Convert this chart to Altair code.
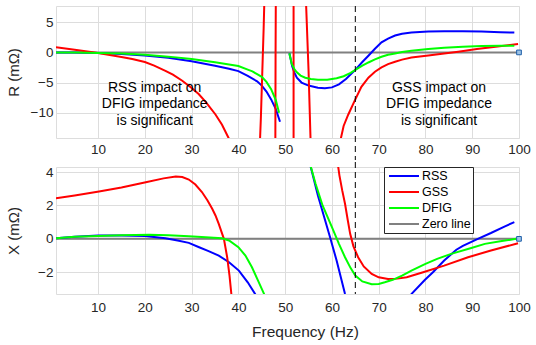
import altair as alt
import pandas as pd

FONT = "Liberation Sans"
SERIES = ["RSS", "GSS", "DFIG", "Zero line"]
COLORS = ["#0000ff", "#ff0000", "#00ff00", "#808080"]
WIDTHS = [2, 2, 2, 3]

F_DOMAIN = [1, 100]
F_TICKS = [10, 20, 30, 40, 50, 60, 70, 80, 90, 100]
R_DOMAIN = [-14.2, 7.7]
R_TICKS = [-10, -5, 0, 5]
X_DOMAIN = [-3.3, 4.3]
X_TICKS = [-2, 0, 2, 4]

# ---------------- R (resistance) panel ----------------
R_RSS_F1 = [1, 5, 10, 15, 20, 25, 30, 35, 38, 40, 42, 44, 45, 46, 47, 48, 48.9]
R_RSS_V1 = [0, -0.03, -0.1, -0.25, -0.5, -0.9, -1.45, -2.2, -2.7, -3.1, -3.9, -4.8, -5.5, -6.5, -7.8, -9.4, -11.5]
R_RSS_F2 = [50.9, 51.2, 51.5, 52.0, 52.5, 53.5, 55, 57, 58.5, 60, 61.5, 63, 65, 66.5, 67.8, 69.2, 70.6,
            72, 73.5, 75, 77, 80.6, 84, 88, 92, 96, 99]
R_RSS_V2 = [-0.15, -1.2, -2.3, -3.4, -4.2, -5.0, -5.5, -5.85, -5.95, -5.8, -5.3, -4.4, -2.9, -1.6, -0.55, 0.6, 1.67,
            2.3, 2.8, 3.1, 3.3, 3.45, 3.5, 3.5, 3.45, 3.35, 3.3]

R_DFIG_F1 = [1, 5, 10, 15, 20, 25, 30, 35, 38, 40, 42, 43, 44, 45, 46, 47, 48, 48.7]
R_DFIG_V1 = [0, -0.02, -0.08, -0.2, -0.4, -0.7, -1.1, -1.65, -2.0, -2.25, -2.85, -3.15, -3.6, -4.05, -4.9, -6.1, -7.9, -10.0]
R_DFIG_F2 = [50.9, 51.4, 52.0, 52.5, 53.3, 54.3, 55.5, 57, 59, 61, 62.5, 64, 65, 66.5, 67.8, 69.2, 70.6,
             72, 73.5, 75, 77, 80.6, 84, 88, 92, 96, 99]
R_DFIG_V2 = [-0.15, -1.9, -2.8, -3.3, -3.85, -4.2, -4.4, -4.55, -4.55, -4.3, -3.95, -3.4, -2.9, -2.2, -1.67, -1.15, -0.72,
             -0.4, -0.17, 0.05, 0.28, 0.55, 0.78, 0.95, 1.05, 1.1, 1.1]

R_GSS_F1 = [1, 5, 10, 15, 17.3, 20, 22, 24.4, 26, 28, 30, 31.5, 33, 35.1, 36.5, 37.9, 38.3]
R_GSS_V1 = [0.85, 0.45, -0.1, -0.75, -1.1, -1.6, -2.2, -3.05, -3.7, -4.7, -5.9, -6.9, -8.2, -10.3, -12.0, -14.2, -15]
R_GSS_F2 = [44.6, 44.8, 45.0, 45.2, 45.4, 45.55]
R_GSS_V2 = [-15, -11, -6, -1, 4, 8.5]
R_GSS_F3 = [48.0, 47.95, 47.9]
R_GSS_V3 = [8.5, 0, -15]
R_GSS_F4 = [51.8, 51.8]
R_GSS_V4 = [-15, 8.5]
R_GSS_F5 = [54.45, 55.0, 55.45]
R_GSS_V5 = [8.5, -3, -15]
R_GSS_F6 = [61.7, 62.5, 63.5, 65, 66.3, 67.8, 69.2, 70.6, 72, 73.5, 75, 77, 80.6, 84, 87, 91, 95, 99.8]
R_GSS_V6 = [-15, -12.2, -10.3, -7.8, -5.7, -4.2, -3.2, -2.5, -1.95, -1.55, -1.2, -0.85, -0.5, -0.2, 0.1, 0.55, 0.95, 1.4]

# ---------------- X (reactance) panel ----------------
X_RSS_F1 = [1, 5, 10, 15, 20, 24.4, 27, 29.4, 31.6, 33.5, 35.8, 38, 40.1, 42, 43.8, 44.2]
X_RSS_V1 = [0.03, 0.12, 0.2, 0.2, 0.17, 0.04, -0.1, -0.24, -0.5, -0.72, -1.0, -1.4, -1.9, -2.6, -3.4, -3.6]
X_RSS_F2 = [55.2, 57, 59.6, 61, 62.8, 63.2]
X_RSS_V2 = [4.6, 2.6, 0.1, -1.3, -3.3, -3.7]
X_RSS_F3 = [76.5, 77, 79.9, 81.6, 84, 86.6, 88, 91.2, 94, 97, 99]
X_RSS_V3 = [-3.6, -3.3, -2.45, -2.0, -1.3, -0.65, -0.42, 0, 0.35, 0.75, 1.0]

X_DFIG_F1 = [1, 5, 10, 15, 20.9, 25, 29.4, 33, 36.5, 38, 40, 41.5, 42.9, 44.2, 45.5, 45.8]
X_DFIG_V1 = [0.03, 0.12, 0.17, 0.21, 0.24, 0.22, 0.16, 0.1, 0.03, -0.1, -0.5, -1.0, -1.7, -2.5, -3.3, -3.6]
X_DFIG_F2 = [55.2, 56.5, 58, 60, 61.5, 62.8, 64, 65, 66.5, 68.5, 70, 71.3, 73, 75, 77, 80, 82.5, 85.5,
             89.8, 92.7, 96, 99.4]
X_DFIG_V2 = [4.6, 3.3, 2.0, 0.7, -0.3, -1.1, -1.75, -2.2, -2.55, -2.72, -2.7, -2.6, -2.45, -2.2, -1.9, -1.5, -1.2, -0.9,
             -0.55, -0.3, -0.15, 0]

X_GSS_F1 = [1, 5, 10.2, 15, 20.2, 24, 26.6, 28, 29.4, 30.8, 32.2, 33.4, 34.4, 35.1, 35.8, 36.9, 37.6, 38.1, 38.6]
X_GSS_V1 = [2.43, 2.6, 2.83, 3.07, 3.39, 3.62, 3.73, 3.7, 3.55, 3.25, 2.8, 2.3, 1.8, 1.4, 0.9, 0, -1.1, -2.2, -3.6]
X_GSS_F2 = [61.2, 61.6, 62.2, 62.8, 63.4, 63.9, 64.6, 65.6, 66.8, 68.5, 70, 72, 74, 76, 79.5, 84, 89.1, 94, 99.8]
X_GSS_V2 = [4.6, 3.8, 2.9, 2.1, 1.1, 0.3, -0.45, -1.1, -1.65, -2.1, -2.3, -2.4, -2.38, -2.3, -2.0, -1.6, -1.1, -0.7, -0.26]

ZERO_F = [1, 100]
ZERO_V = [0, 0]

DASH_F = [65]
MARK_F = [100]
MARK_V = [0]

ANNOT_TEXT = ["RSS impact on\nDFIG impedance\nis significant",
              "GSS impact on\nDFIG impedance\nis significant"]
ANNOT_F = [22.1, 82.9]
ANNOT_V = [-5.9, -5.9]

R_SEGMENTS = [
    ("Zero line", ZERO_F, ZERO_V),
    ("RSS", R_RSS_F1, R_RSS_V1), ("RSS", R_RSS_F2, R_RSS_V2),
    ("GSS", R_GSS_F1, R_GSS_V1), ("GSS", R_GSS_F2, R_GSS_V2), ("GSS", R_GSS_F3, R_GSS_V3),
    ("GSS", R_GSS_F4, R_GSS_V4), ("GSS", R_GSS_F5, R_GSS_V5), ("GSS", R_GSS_F6, R_GSS_V6),
    ("DFIG", R_DFIG_F1, R_DFIG_V1), ("DFIG", R_DFIG_F2, R_DFIG_V2),
]
X_SEGMENTS = [
    ("Zero line", ZERO_F, ZERO_V),
    ("RSS", X_RSS_F1, X_RSS_V1), ("RSS", X_RSS_F2, X_RSS_V2), ("RSS", X_RSS_F3, X_RSS_V3),
    ("GSS", X_GSS_F1, X_GSS_V1), ("GSS", X_GSS_F2, X_GSS_V2),
    ("DFIG", X_DFIG_F1, X_DFIG_V1), ("DFIG", X_DFIG_F2, X_DFIG_V2),
]


def build(segments):
    rows = []
    for k, (s, fs, vs) in enumerate(segments):
        for i, (f, v) in enumerate(zip(fs, vs)):
            rows.append({"series": s, "seg": f"{s}-{k}", "i": i, "f": f, "v": v})
    return pd.DataFrame(rows)


W = 463
H_TOP = 132
H_BOT = 127
GAP = 22
OVERHANG = 5
AXIS_COLOR = "#262626"


def panel(segments, ydom, yticks, ytitle, bottom, height):
    df = build(segments)
    xaxis_kw = dict(values=F_TICKS, grid=True, ticks=False, domain=False,
                    labelPadding=6 if bottom else 4,
                    labelFontSize=13.5, labelColor=AXIS_COLOR, labelFont=FONT,
                    labelFlush=False)
    if bottom:
        xaxis_kw.update(title="Frequency (Hz)", titleFontSize=15.5, titleFont=FONT,
                        titleColor=AXIS_COLOR, titleFontWeight="normal", titlePadding=11,
                        titleX=249)
    else:
        xaxis_kw.update(title=None)
    xaxis = alt.Axis(**xaxis_kw)
    yaxis = alt.Axis(values=yticks, grid=True, ticks=False, domain=False, labelPadding=3,
                     labelFontSize=13.5, labelColor=AXIS_COLOR, labelFont=FONT,
                     title=ytitle, titleFontSize=15, titleFont=FONT, titleColor=AXIS_COLOR,
                     titleFontWeight="normal", titlePadding=13, minExtent=22, maxExtent=22)
    xs = alt.Scale(domain=F_DOMAIN, nice=False, zero=False)
    ys = alt.Scale(domain=ydom, nice=False, zero=False)
    if bottom:
        legend = alt.Legend(title=None, orient="none", legendX=328, legendY=0,
                            labelFontSize=12.5, labelFont=FONT, labelColor="#000000",
                            symbolType="M-2.5,0H2.5", symbolSize=144, symbolOffset=11,
                            labelOffset=11, strokeColor="#262626", fillColor="white",
                            padding=2, rowPadding=2)
    else:
        legend = None
    lines = alt.Chart(df).mark_line(clip=True, strokeCap="butt").encode(
        x=alt.X("f:Q", scale=xs, axis=xaxis),
        y=alt.Y("v:Q", scale=ys, axis=yaxis),
        color=alt.Color("series:N", scale=alt.Scale(domain=SERIES, range=COLORS), legend=legend),
        strokeWidth=alt.StrokeWidth("series:N", scale=alt.Scale(domain=SERIES, range=WIDTHS), legend=legend),
        detail="seg:N",
        order="i:Q",
    )
    dash = alt.Chart(pd.DataFrame({"f": DASH_F})).mark_rule(
        color="black", strokeDash=[6, 4], strokeWidth=1
    ).encode(
        x=alt.X("f:Q", scale=xs),
        y=alt.value(-OVERHANG if bottom else 0),
        y2=alt.value(height if bottom else height + GAP),
    )
    marker = alt.Chart(pd.DataFrame({"f": MARK_F, "v": MARK_V})).mark_square(
        size=22, fill="#9cc3e6", stroke="#1f5fa8", strokeWidth=1, opacity=1
    ).encode(x=alt.X("f:Q", scale=xs), y=alt.Y("v:Q", scale=ys))
    layers = [lines, dash, marker]
    if not bottom:
        ann = alt.Chart(pd.DataFrame({"f": ANNOT_F, "v": ANNOT_V, "t": ANNOT_TEXT})).mark_text(
            fontSize=14, font=FONT, color="#000000", lineBreak="\n", align="center",
            baseline="middle", lineHeight=16.5
        ).encode(x=alt.X("f:Q", scale=xs), y=alt.Y("v:Q", scale=ys), text="t:N")
        layers.append(ann)
    return alt.layer(*layers).properties(width=W, height=height)


top = panel(R_SEGMENTS, R_DOMAIN, R_TICKS, "R (mΩ)", False, H_TOP)
bot = panel(X_SEGMENTS, X_DOMAIN, X_TICKS, "X (mΩ)", True, H_BOT)

chart = alt.vconcat(top, bot, spacing=0).resolve_scale(
    color="independent", strokeWidth="independent"
).resolve_legend(
    color="independent", strokeWidth="independent"
).properties(
    padding={"left": 5, "top": 5, "right": 5, "bottom": 5}
).configure_view(
    stroke="#3c3c3c", strokeWidth=1
).configure_axis(
    gridColor="#dcdcdc", gridWidth=1
).configure(background="white")

chart.save("out.html", embed_options={"renderer": "svg", "actions": False})
